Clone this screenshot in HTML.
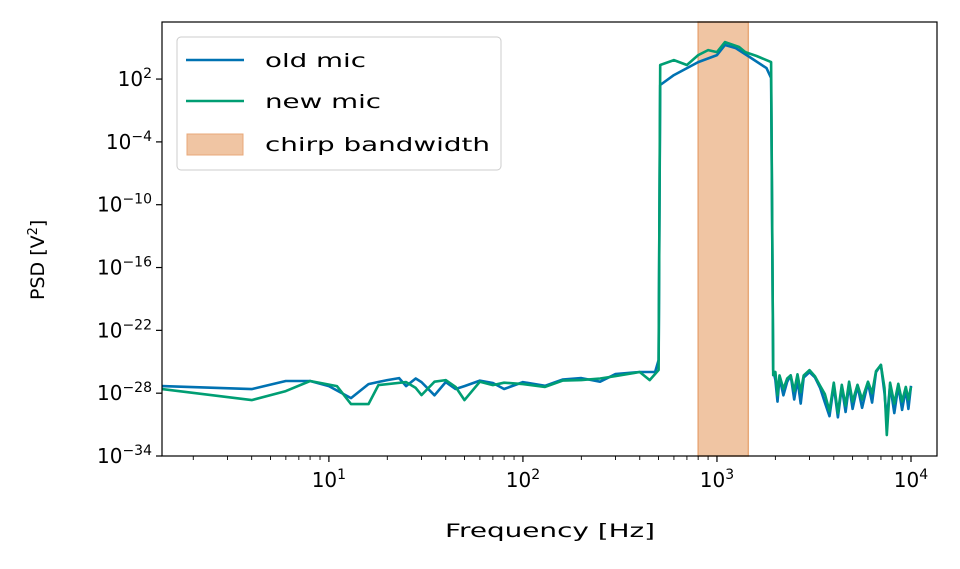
<!DOCTYPE html>
<html><head><meta charset="utf-8"><style>
body{margin:0;background:#fff;font-family:"DejaVu Sans","Liberation Sans",sans-serif}
</style></head><body>
<svg id="chart" width="960" height="565" xmlns="http://www.w3.org/2000/svg" font-family="DejaVu Sans, Liberation Sans, sans-serif"></svg>
<script>
const oldFreq=[1.38,4,6,8,10,13,16,20,23,25,28,30,35,40,45,50,60,70,80,100,130,160,200,250,300,400,480,500,510,600,800,1000,1100,1250,1500,1800,1900,1950,2000,2050,2100,2200,2300,2400,2500,2600,2700,2800,3000,3200,3400,3600,3800,4000,4200,4400,4600,4800,5000,5300,5600,6000,6300,6600,7000,7300,7500,7800,8200,8600,9000,9400,9700,10000];
const oldLog=[-27.32,-27.61,-26.84,-26.84,-27.32,-28.47,-27.13,-26.75,-26.56,-27.32,-26.6,-26.94,-28.2,-26.94,-27.6,-27.32,-26.8,-27.03,-27.6,-26.94,-27.3,-26.7,-26.56,-26.9,-26.18,-25.98,-25.98,-24.84,1.43,2.38,3.62,4.29,5.25,4.96,4.01,3.05,2.10,-25.79,-26.75,-28.8,-26.5,-28.2,-26.9,-26.3,-28.6,-26.7,-29.0,-26.5,-26.0,-26.5,-27.5,-28.9,-30.2,-27.3,-30.3,-27.4,-29.8,-27.2,-29.5,-27.3,-29.4,-27.0,-28.9,-26.0,-25.3,-28.0,-30.6,-27.2,-29.9,-27.3,-29.6,-27.6,-29.5,-27.3];
const newFreq=[1.38,4,6,8,11,13,16,18,25,28,30,35,40,45,50,60,70,80,100,130,160,200,250,300,400,450,500,510,600,700,800,900,1000,1100,1300,1400,1600,1900,1950,2000,2050,2100,2200,2300,2400,2500,2600,2700,2800,3000,3200,3400,3600,3800,4000,4200,4400,4600,4800,5000,5300,5600,6000,6300,6600,7000,7300,7500,7800,8200,8600,9000,9400,9700,10000];
const newLog=[-27.61,-28.66,-27.80,-26.84,-27.32,-29.04,-29.04,-27.23,-26.94,-27.5,-28.18,-26.9,-26.75,-27.4,-28.66,-26.9,-27.23,-27.0,-27.13,-27.4,-26.8,-26.75,-26.6,-26.37,-25.98,-26.75,-25.79,3.34,3.81,3.34,4.29,4.77,4.58,5.53,5.06,4.58,4.20,3.62,-26.27,-25.98,-28.2,-26.3,-27.6,-26.6,-26.3,-27.8,-26.2,-27.9,-26.3,-25.8,-26.4,-27.3,-28.1,-29.7,-27.0,-29.9,-27.2,-29.2,-26.9,-28.8,-27.2,-28.6,-26.9,-28.0,-25.9,-25.3,-27.5,-32.0,-27.0,-29.0,-27.1,-28.8,-27.4,-28.6,-27.4];
const band=[800,1450];
const xTicks=[1,2,3,4];
const yTicks=[2,-4,-10,-16,-22,-28,-34];

const svg=document.getElementById('chart');const NS='http://www.w3.org/2000/svg';
const L=162,R=937,T=22,B=456;
const xMin=Math.log10(1.38),xMax=4.134,yMin=-34,yMax=7.45;
const X=f=>L+(Math.log10(f)-xMin)/(xMax-xMin)*(R-L);
const Y=l=>B-(l-yMin)/(yMax-yMin)*(B-T);
function mk(t,a,p){const e=document.createElementNS(NS,t);for(const k in a)e.setAttribute(k,a[k]);(p||svg).appendChild(e);return e;}
const clip=mk('clipPath',{id:'c'});mk('rect',{x:L,y:T,width:R-L,height:B-T},clip);
const bandEl=mk('rect',{x:X(band[0]),y:T,width:X(band[1])-X(band[0]),height:B-T,fill:'#f0c5a3',stroke:'#e8a878','stroke-width':1.5});


function line(fr,lg,col,name){const d=fr.map((f,i)=>(i?'L':'M')+X(f).toFixed(1)+','+Y(lg[i]).toFixed(1)).join('');
const p=mk('path',{d:d,fill:'none',stroke:col,'stroke-width':2.6,'stroke-linejoin':'round','clip-path':'url(#c)'});

}
line(oldFreq,oldLog,'#0072b2','old-mic-line');
line(newFreq,newLog,'#009e73','new-mic-line');
mk('rect',{x:L,y:T,width:R-L,height:B-T,fill:'none',stroke:'#000','stroke-width':1.2});
xTicks.forEach(e=>{const x=X(Math.pow(10,e));mk('line',{x1:x,x2:x,y1:B,y2:B+6,stroke:'#000','stroke-width':1.2});
const t=mk('text',{x:x,y:B+31,'text-anchor':'middle','font-size':20});t.innerHTML='10<tspan dy="-8" font-size="14">'+e+'</tspan>';

});
for(let e=0;e<=4;e++)for(let m=2;m<10;m++){const f=m*Math.pow(10,e);if(f<1.38||Math.log10(f)>xMax)continue;const x=X(f);mk('line',{x1:x,x2:x,y1:B,y2:B+4,stroke:'#000','stroke-width':0.9});}
yTicks.forEach(e=>{const y=Y(e);mk('line',{x1:L-6,x2:L,y1:y,y2:y,stroke:'#000','stroke-width':1.2});
const t=mk('text',{x:L-10,y:y+7,'text-anchor':'end','font-size':20});t.innerHTML='10<tspan dy="-8" font-size="14">'+(e<0?'\u2212'+(-e):e)+'</tspan>';

});
const xl=mk('text',{x:445,y:537,'font-size':19,textLength:210,lengthAdjust:'spacingAndGlyphs'});xl.textContent='Frequency [Hz]';


const yl=mk('text',{x:0,y:0,'font-size':19,transform:'translate(44,300) rotate(-90)'});yl.innerHTML='PSD [V<tspan dy="-7" font-size="13">2</tspan><tspan dy="7">]</tspan>';


const lg=mk('g',{});


mk('rect',{x:177,y:37,width:324,height:133,rx:4,fill:'#fff','fill-opacity':0.8,stroke:'#ccc'},lg);
mk('line',{x1:186,x2:244,y1:60,y2:60,stroke:'#0072b2','stroke-width':2.6},lg);
mk('line',{x1:186,x2:244,y1:101,y2:101,stroke:'#009e73','stroke-width':2.6},lg);
mk('rect',{x:187,y:134,width:56,height:21,fill:'#f0c5a3',stroke:'#e8a878'},lg);
[['old mic',67,101],['new mic',108,116],['chirp bandwidth',151,225]].forEach(a=>{const t=mk('text',{x:265,y:a[1],'font-size':19,textLength:a[2],lengthAdjust:'spacingAndGlyphs'},lg);t.textContent=a[0];

});
</script>
</body></html>
